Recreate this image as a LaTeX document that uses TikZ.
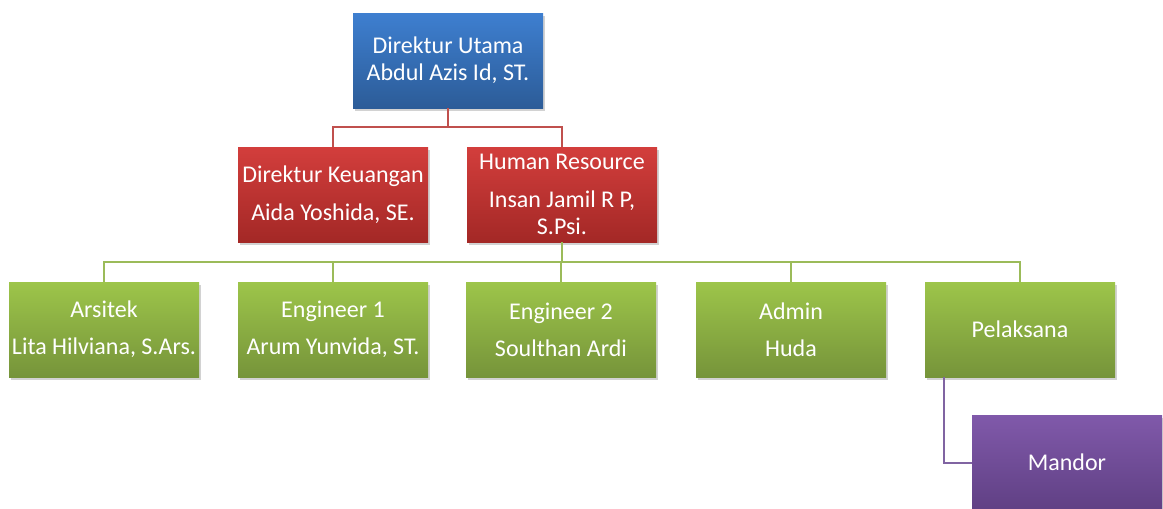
\documentclass[tikz,border=0pt]{standalone}
\usepackage{fontspec}
\setmainfont{Carlito}
\usetikzlibrary{shadows}
\definecolor{bluetop}{RGB}{62,127,208}
\definecolor{bluebot}{RGB}{44,92,152}
\definecolor{redtop}{RGB}{211,62,60}
\definecolor{redbot}{RGB}{163,40,38}
\definecolor{greentop}{RGB}{157,197,74}
\definecolor{greenbot}{RGB}{118,148,58}
\definecolor{purptop}{RGB}{128,89,170}
\definecolor{purpbot}{RGB}{96,64,132}
\definecolor{redln}{RGB}{192,80,77}
\definecolor{greenln}{RGB}{155,187,89}
\definecolor{purpln}{RGB}{128,100,162}
\tikzset{
  orgbox/.style={rectangle, minimum width=190pt, minimum height=95pt, inner sep=0pt,
    align=center, text=white, font=\fontsize{24}{27}\selectfont,
    drop shadow={opacity=0.35, shadow xshift=2pt, shadow yshift=-3pt}},
  bluebox/.style={orgbox, top color=bluetop, bottom color=bluebot},
  redbox/.style={orgbox, top color=redtop, bottom color=redbot},
  greenbox/.style={orgbox, top color=greentop, bottom color=greenbot},
  purpbox/.style={orgbox, top color=purptop, bottom color=purpbot},
  redconn/.style={draw=redln, line width=2pt},
  greenconn/.style={draw=greenln, line width=2pt},
  purpconn/.style={draw=purpln, line width=2pt}
}
\begin{document}
\begin{tikzpicture}[x=1pt, y=-1pt]
\useasboundingbox (0,0) rectangle (1163,509);
\fill[white] (0,0) rectangle (1163,509);
\coordinate (rj) at (448,127);
\coordinate (gj) at (562,262);
\node[bluebox] (top) at (448,60.5) {Direktur Utama\\Abdul Azis Id, ST.};
\node[redbox] (dk) at (333,194.5) {Direktur Keuangan\\[11pt]Aida Yoshida, SE.};
\node[redbox] (hr) at (562,194.5) {Human Resource\\[11pt]Insan Jamil R P,\\S.Psi.};
\node[greenbox] (ars) at (104,329.5) {Arsitek\\[10pt]Lita Hilviana, S.Ars.};
\node[greenbox] (en1) at (333,329.5) {Engineer 1\\[10pt]Arum Yunvida, ST.};
\node[greenbox] (en2) at (561,329.5) {Engineer 2\\[10pt]Soulthan Ardi};
\node[greenbox] (adm) at (791,329.5) {Admin\\[10pt]Huda};
\node[greenbox] (pel) at (1020,329.5) {Pelaksana};
\node[purpbox] (man) at (1067,462.5) {Mandor};
\coordinate (pa) at (944,377);
\draw[redconn] (top.south) -- (rj);
\draw[redconn] (rj) -| (dk.north);
\draw[redconn] (rj) -| (hr.north);
\draw[greenconn] (hr.south) -- (gj);
\draw[greenconn] (gj) -| (ars.north);
\draw[greenconn] (gj) -| (en1.north);
\draw[greenconn] (gj) -| (en2.north);
\draw[greenconn] (gj) -| (adm.north);
\draw[greenconn] (gj) -| (pel.north);
\draw[purpconn] (pa) |- (man.west);
\end{tikzpicture}
\end{document}
